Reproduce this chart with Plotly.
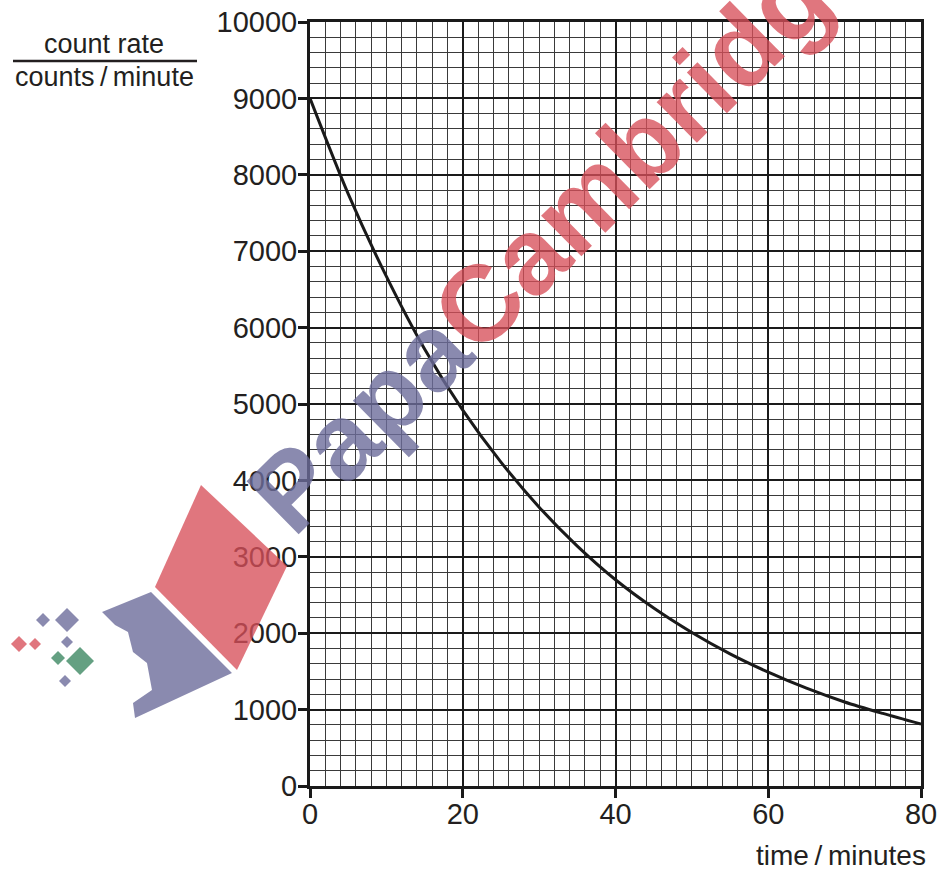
import plotly.graph_objects as go

# ---- data ----
time_min = [0, 5, 10, 15, 20, 25, 30, 35, 40, 45, 50, 55, 60, 65, 70, 75, 80]
count_rate = [9000, 7750, 6670, 5720, 4920, 4240, 3650, 3140, 2700, 2330, 2010, 1730, 1490, 1280, 1100, 950, 810]
x_ticks = [0, 20, 40, 60, 80]
y_ticks = [0, 1000, 2000, 3000, 4000, 5000, 6000, 7000, 8000, 9000, 10000]

W, H = 942, 870
L, T = 310, 22
PW, PH = 611, 764
R = W - L - PW
B = H - T - PH

def px(x, y):
    return (x - L) / PW, (H - B - y) / PH

def path(points):
    s = ""
    for i, (x, y) in enumerate(points):
        a, b = px(x, y)
        s += ("M" if i == 0 else "L") + f"{a:.4f},{b:.4f}"
    return s + "Z"

FONT = "Liberation Sans, Arial, Helvetica, sans-serif"
TXT = "#231f20"

fig = go.Figure()
fig.add_trace(go.Scatter(x=time_min, y=count_rate, mode="lines",
                         line=dict(color="#1a1a1a", width=3, shape="spline", smoothing=0.8),
                         hoverinfo="skip", showlegend=False))

axis_common = dict(showline=True, mirror=True, linecolor="#1a1a1a", linewidth=3,
                   ticks="outside", ticklen=9, tickwidth=3, tickcolor="#1a1a1a",
                   showgrid=True, gridcolor="#1a1a1a", gridwidth=2, zeroline=False,
                   ticklabeloverflow="allow",
                   tickfont=dict(family=FONT, size=29, color=TXT))
fig.update_xaxes(range=[0, 80], tickvals=x_ticks, ticktext=[str(v) for v in x_ticks],
                 ticklabelstandoff=-9,
                 minor=dict(dtick=2, tick0=0, showgrid=True, gridcolor="#3a3a3a", gridwidth=1, ticks=""),
                 **axis_common)
fig.update_yaxes(range=[0, 10000], tickvals=y_ticks, ticktext=[str(v) for v in y_ticks],
                 ticklabelstandoff=-5,
                 minor=dict(dtick=200, tick0=0, showgrid=True, gridcolor="#3a3a3a", gridwidth=1, ticks=""),
                 **axis_common)

annotations = []
# y-axis fraction title
ax, ay = px(104, 44)
annotations.append(dict(x=ax, y=ay, xref="paper", yref="paper", text="count rate", showarrow=False,
                        font=dict(family=FONT, size=27, color=TXT), xanchor="center", yanchor="middle"))
ax, ay = px(104, 77)
annotations.append(dict(x=ax, y=ay, xref="paper", yref="paper", text="counts\u2009/\u2009minute", showarrow=False,
                        font=dict(family=FONT, size=27, color=TXT), xanchor="center", yanchor="middle"))
# x-axis title
ax, ay = px(928, 855)
annotations.append(dict(x=ax, y=ay, xref="paper", yref="paper", text="time\u2009/\u2009minutes", showarrow=False,
                        font=dict(family=FONT, size=28, color=TXT), xanchor="right", yanchor="middle"))
# watermark text
ax, ay = px(560, 224)
annotations.append(dict(x=ax, y=ay, xref="paper", yref="paper",
                        text="<b><span style='color:rgba(109,109,155,0.8)'>Papa</span>"
                             "<span style='color:rgba(215,80,90,0.78)'>Cambridge</span></b>",
                        showarrow=False, textangle=-44.5,
                        font=dict(family=FONT, size=108), xanchor="center", yanchor="middle"))

shapes = []
x0, y0 = px(13, 61)
x1, _ = px(197, 61)
shapes.append(dict(type="line", xref="paper", yref="paper", x0=x0, y0=y0, x1=x1, y1=y0,
                   line=dict(color=TXT, width=2.5)))

RED = "rgba(215,80,90,0.78)"
BLUE = "rgba(109,109,155,0.8)"
GREEN = "rgba(61,136,99,0.8)"
logo = [
    (RED, [(201, 485), (287, 566), (237, 670), (155, 587)]),
    (BLUE, [(102, 612), (151, 592), (232, 673), (135, 718), (133, 703), (152, 690), (147, 663),
            (133, 652), (128, 632), (115, 625)]),
    (BLUE, [(43, 613), (50, 620), (43, 627), (36, 620)]),
    (BLUE, [(67, 608), (79, 620), (67, 632), (55, 620)]),
    (BLUE, [(67, 636), (73, 642), (67, 648), (61, 642)]),
    (BLUE, [(65, 675), (71, 681), (65, 687), (59, 681)]),
    (RED, [(19, 636), (27, 644), (19, 652), (11, 644)]),
    (RED, [(35, 638), (41, 644), (35, 650), (29, 644)]),
    (GREEN, [(80, 647), (94, 661), (80, 675), (66, 661)]),
    (GREEN, [(58, 651), (65, 658), (58, 665), (51, 658)]),
]
for color, pts in logo:
    shapes.append(dict(type="path", xref="paper", yref="paper", path=path(pts),
                       fillcolor=color, line=dict(width=0), layer="above"))

fig.update_layout(width=W, height=H, margin=dict(l=L, r=R, t=T, b=B, autoexpand=False),
                  paper_bgcolor="white", plot_bgcolor="white",
                  annotations=annotations, shapes=shapes, showlegend=False)

fig.write_html("out.html", config={"displayModeBar": False},
               post_script="document.body.style.margin='0';document.body.style.overflow='hidden';")
